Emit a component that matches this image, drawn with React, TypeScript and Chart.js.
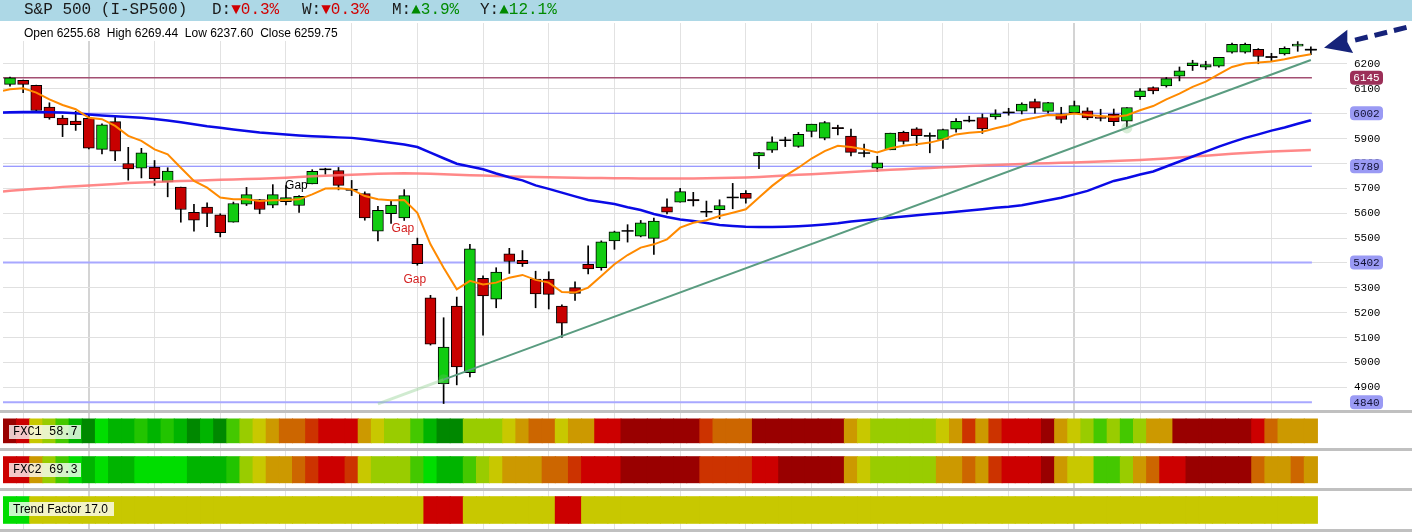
import React, { useEffect, useRef } from "react";
import { Chart, registerables } from "chart.js";

Chart.register(...registerables);

// ---------------- data ----------------
const opens = [6118, 6134, 6114, 6027, 5983, 5971, 5982, 5857, 5968, 5800,
  5781, 5786, 5726, 5705, 5604, 5625, 5594, 5564, 5636, 5655,
  5632, 5647, 5631, 5718, 5776, 5772, 5696, 5679, 5528, 5598,
  5581, 5475, 5260, 4915, 5227, 4959, 5338, 5255, 5437, 5411,
  5335, 5335, 5227, 5301, 5395, 5381, 5489, 5529, 5508, 5499,
  5626, 5645, 5655, 5605, 5614, 5663, 5680, 5830, 5854, 5894,
  5869, 5929, 5902, 5944, 5910, 5842, 5781, 5855, 5925, 5939,
  5910, 5897, 5938, 5974, 5985, 5987, 6005, 6010, 6049, 6009,
  6000, 6004, 6012, 5987, 5999, 5970, 6069, 6105, 6112, 6151,
  6193, 6187, 6191, 6248, 6248, 6259, 6230, 6240, 6272, 6255.68];
const highs = [6147, 6135, 6115, 6044, 5993, 6010, 5994, 5959, 5986, 5865,
  5861, 5812, 5783, 5705, 5636, 5642, 5598, 5645, 5704, 5655,
  5715, 5711, 5671, 5775, 5781, 5784, 5732, 5686, 5628, 5652,
  5695, 5500, 5270, 5180, 5263, 5475, 5348, 5381, 5459, 5450,
  5367, 5365, 5232, 5324, 5469, 5489, 5528, 5554, 5571, 5581,
  5658, 5700, 5684, 5649, 5654, 5720, 5691, 5845, 5907, 5906,
  5925, 5958, 5969, 5954, 5938, 5878, 5829, 5922, 5930, 5944,
  5923, 5938, 5981, 5990, 5999, 6016, 6022, 6044, 6059, 6046,
  6026, 6051, 6024, 6018, 6019, 6025, 6101, 6108, 6146, 6188,
  6215, 6211, 6227, 6284, 6284, 6262, 6243, 6269, 6290, 6269.44];
const lows = [6111, 6085, 6009, 5978, 5908, 5933, 5859, 5838, 5811, 5733,
  5742, 5712, 5666, 5564, 5528, 5546, 5505, 5564, 5631, 5598,
  5622, 5633, 5603, 5718, 5757, 5694, 5671, 5572, 5489, 5559,
  5571, 5391, 5070, 4835, 4910, 4942, 5110, 5220, 5358, 5386,
  5220, 5215, 5101, 5250, 5356, 5371, 5455, 5484, 5505, 5434,
  5597, 5645, 5629, 5586, 5578, 5618, 5640, 5779, 5845, 5868,
  5865, 5907, 5895, 5915, 5830, 5826, 5768, 5855, 5878, 5872,
  5843, 5861, 5926, 5967, 5921, 5978, 5994, 5999, 6002, 6003,
  5963, 6004, 5976, 5971, 5952, 5943, 6058, 6080, 6107, 6132,
  6174, 6178, 6187, 6244, 6244, 6201, 6211, 6236, 6251, 6237.60];
const closes = [6144, 6118, 6013, 5983, 5955, 5956, 5862, 5955, 5850, 5778,
  5843, 5739, 5770, 5615, 5572, 5599, 5522, 5639, 5675, 5615,
  5675, 5663, 5668, 5768, 5777, 5712, 5693, 5581, 5612, 5633,
  5671, 5397, 5074, 5062, 4982, 5457, 5268, 5363, 5406, 5397,
  5276, 5274, 5158, 5278, 5376, 5485, 5525, 5529, 5561, 5569,
  5604, 5687, 5650, 5607, 5631, 5664, 5660, 5844, 5887, 5893,
  5917, 5958, 5964, 5940, 5845, 5842, 5803, 5922, 5889, 5912,
  5912, 5936, 5970, 5971, 5939, 6000, 6006, 6039, 6022, 6045,
  5977, 6033, 5983, 5981, 5968, 6025, 6092, 6092, 6141, 6173,
  6205, 6198, 6227, 6279, 6279, 6230, 6226, 6263, 6280, 6259.75];

// moving-average lines: first value sits at the left edge of the plot, then one per candle
const emaLine = [6092,
  6098, 6102, 6085, 6058, 6035, 6018, 5984, 5978, 5951, 5911,
  5891, 5857, 5837, 5783, 5730, 5703, 5663, 5656, 5656, 5649,
  5652, 5653, 5656, 5676, 5699, 5700, 5696, 5669, 5656, 5652,
  5653, 5602, 5475, 5381, 5294, 5328, 5314, 5321, 5341, 5352,
  5332, 5321, 5283, 5281, 5301, 5348, 5395, 5432, 5462, 5475,
  5495, 5542, 5562, 5572, 5589, 5602, 5616, 5663, 5710, 5750,
  5783, 5820, 5850, 5871, 5866, 5857, 5844, 5861, 5871, 5877,
  5884, 5897, 5917, 5924, 5928, 5942, 5954, 5974, 5984, 5995,
  5994, 6001, 5995, 5991, 5987, 5994, 6014, 6031, 6058, 6081,
  6108, 6129, 6159, 6188, 6202, 6206, 6210, 6219, 6230, 6239];
const ma50Line = [6005,
  6006, 6007, 6007, 6006, 6005, 6002, 5997, 5993, 5990, 5987,
  5984, 5979, 5973, 5966, 5958, 5950, 5944, 5937, 5931, 5925,
  5921, 5917, 5913, 5910, 5908, 5905, 5903, 5897, 5890, 5883,
  5876, 5866, 5844, 5821, 5799, 5788, 5777, 5760, 5745, 5732,
  5712, 5698, 5683, 5668, 5653, 5645, 5637, 5624, 5613, 5597,
  5585, 5575, 5569, 5561, 5553, 5549, 5546, 5545, 5545, 5546,
  5548, 5551, 5555, 5560, 5567, 5572, 5577, 5582, 5587, 5592,
  5597, 5601, 5606, 5611, 5616, 5622, 5626, 5632, 5642, 5652,
  5662, 5676, 5690, 5710, 5730, 5742, 5756, 5768, 5788, 5808,
  5828, 5848, 5868, 5886, 5903, 5917, 5932, 5945, 5960, 5974];
const ma200Line = [5687,
  5690, 5694, 5698, 5701, 5706, 5709, 5712, 5715, 5718, 5722,
  5724, 5726, 5728, 5730, 5731, 5733, 5735, 5736, 5738, 5739,
  5741, 5743, 5746, 5749, 5751, 5753, 5755, 5757, 5759, 5760,
  5761, 5760, 5759, 5757, 5755, 5753, 5752, 5750, 5748, 5747,
  5746, 5745, 5744, 5743, 5742, 5742, 5741, 5741, 5740, 5740,
  5740, 5740, 5740, 5741, 5742, 5743, 5744, 5746, 5749, 5752,
  5755, 5757, 5760, 5763, 5766, 5769, 5772, 5775, 5777, 5780,
  5782, 5785, 5787, 5790, 5792, 5794, 5796, 5798, 5800, 5801,
  5803, 5804, 5806, 5808, 5810, 5812, 5814, 5817, 5820, 5824,
  5828, 5831, 5835, 5839, 5842, 5845, 5848, 5850, 5852, 5854];

const levelValues = [6145, 6002, 5789, 5402, 4840];
const yTickValues = [4900, 5000, 5100, 5200, 5300, 5400, 5500, 5600, 5700, 5800, 5900, 6000, 6100, 6200];
const gridCandles = [1, 6, 11, 16, 21, 26, 31, 36, 41, 46, 51, 56, 61, 66, 71, 76, 81, 86, 91, 96];
const thickGridCandles = [6, 81];

const trendLine = [{ at: 33, value: 4931 }, { at: 99, value: 6216 }];
const trendFade = [{ at: 28, value: 4834 }, { at: 33, value: 4931 }];
const trendTouches = [{ at: 33, value: 4931 }, { at: 85, value: 5943 }];

const gapNotes = [
  { at: 21.8, value: 5712, text: "Gap", kind: "up" },
  { at: 29.9, value: 5539, text: "Gap", kind: "down" },
  { at: 30.8, value: 5332, text: "Gap", kind: "down" },
];
const arrowTarget = { at: 100, value: 6265 };

// heat-strip cell codes, one per candle
const fxc1Cells = ("DRYLMgKBggHgHgKgKMLYGNNORRRGYLLMgKKL" + "LLYGNNYGGRRDDDDDDONNNDDDDDDDGYLLLLLYGOGORRRDGYLMLMLGGDDDDDDRNGGG").split("");
const fxc2Cells = ("RRGLMBgBggBBBBgggHLYGGNORROYLLLMBggM" + "LYGGGNNORRRDDDDDDOOOORRDDDDDGYLLLLLGGNGORRRDGYYMMLGNRRDDDDDNGGNG").split("");
const trendCells = ("BB" + "YYYYYYYYYYYYYYYYYYYYYYYYYYYYYY" + "RRR" + "YYYYYYY" + "RR" +
  "YYYYYYYYYYYYYYYYYYYYYYYYYYYYYYYYYYYYYYYYYYYYYYYYYYYYYYYY").split("");

const headerTitle = "S&P 500 (I-SP500)";
const headerStats = [
  { key: "D:", arrow: "▼", text: "0.3%", up: false },
  { key: "W:", arrow: "▼", text: "0.3%", up: false },
  { key: "M:", arrow: "▲", text: "3.9%", up: true },
  { key: "Y:", arrow: "▲", text: "12.1%", up: true },
];
const stripLabels = ["FXC1 58.7", "FXC2 69.3", "Trend Factor 17.0"];

// ---------------- styles / layout ----------------
const W = 1412;
const X_MIN = -0.533;
const X_MAX = 101.75;
const Y_MIN = 4805;
const Y_MAX = 6364.8;
const PALETTE: Record<string, string> = {
  D: "#990000", R: "#cc0000", O: "#cc3300", N: "#cc6600", G: "#cc9900", Y: "#c8c800",
  L: "#99cc00", M: "#44c800", H: "#22c400", B: "#00dd00", g: "#00b400", K: "#008800",
};
const LEVEL_STYLES = [
  { line: "#a34f72", width: 1.5, badge: "#9c2f58", text: "#ffffff" },
  { line: "#7878ff", width: 1.2, badge: "#9a9af4", text: "#111133" },
  { line: "#7878ff", width: 1.2, badge: "#9a9af4", text: "#111133" },
  { line: "#a8a8ff", width: 2, badge: "#9a9af4", text: "#111133" },
  { line: "#a8a8ff", width: 2, badge: "#9a9af4", text: "#111133" },
];
const MONO = "'Liberation Mono', 'DejaVu Sans Mono', monospace";
const SANS = "'Liberation Sans', Arial, sans-serif";
const STRIP_ROWS = [[8, 31.7], [45.7, 71.7], [85.7, 112.3]];

const idx = opens.map((_, i) => i);
const withLead = (arr: number[]) => arr.map((v, k) => ({ x: k === 0 ? X_MIN : k - 1, y: v }));

function xScaleOptions() {
  return {
    type: "linear",
    min: X_MIN,
    max: X_MAX,
    offset: false,
    ticks: { display: false },
    grid: {
      offset: false,
      drawTicks: false,
      color: (c: any) => (c.tick && thickGridCandles.includes(c.tick.value) ? "#d4d4d4" : "#e2e2e2"),
      lineWidth: (c: any) => (c.tick && thickGridCandles.includes(c.tick.value) ? 2 : 1),
    },
    border: { display: false },
    afterBuildTicks: (s: any) => { s.ticks = gridCandles.map((v) => ({ value: v })); },
    afterFit: (s: any) => { s.height = 0; s.paddingLeft = 0; s.paddingRight = 0; },
  };
}

const badgePlugin = {
  id: "levelBadges",
  afterDraw(chart: any) {
    const ys = chart.scales.y;
    const ctx = chart.ctx;
    ctx.save();
    levelValues.forEach((lv, k) => {
      const st = LEVEL_STYLES[k];
      const y = ys.getPixelForValue(lv);
      const x0 = chart.chartArea.right + 3;
      const w = 33, h = 14;
      ctx.fillStyle = st.badge;
      ctx.beginPath();
      if (ctx.roundRect) ctx.roundRect(x0, y - h / 2, w, h, 4); else ctx.rect(x0, y - h / 2, w, h);
      ctx.fill();
      ctx.fillStyle = st.text;
      ctx.font = "11px " + MONO;
      ctx.textAlign = "center";
      ctx.textBaseline = "middle";
      ctx.fillText(String(lv), x0 + w / 2, y + 0.5);
    });
    ctx.restore();
  },
};

const gapPlugin = {
  id: "gapNotes",
  afterDatasetsDraw(chart: any) {
    const { x: xs, y: ys } = chart.scales;
    const ctx = chart.ctx;
    ctx.save();
    ctx.font = "12px " + SANS;
    ctx.textAlign = "center";
    ctx.textBaseline = "middle";
    gapNotes.forEach((n) => {
      ctx.fillStyle = n.kind === "up" ? "#000000" : "#d42020";
      ctx.fillText(n.text, xs.getPixelForValue(n.at), ys.getPixelForValue(n.value));
    });
    ctx.restore();
  },
};

const arrowPlugin = {
  id: "arrow",
  afterDraw(chart: any) {
    const { x: xs, y: ys } = chart.scales;
    const ctx = chart.ctx;
    const tx = xs.getPixelForValue(arrowTarget.at);
    const ty = ys.getPixelForValue(arrowTarget.value);
    const dx = 0.971, dy = -0.24;
    const headLen = 27, headHalf = 12;
    const bx = tx + dx * headLen, by = ty + dy * headLen;
    ctx.save();
    ctx.fillStyle = "#16237a";
    ctx.beginPath();
    ctx.moveTo(tx, ty);
    ctx.lineTo(bx - dy * headHalf, by + dx * headHalf);
    ctx.lineTo(bx + dx * -3, by + dy * -3);
    ctx.lineTo(bx + dy * headHalf, by - dx * headHalf);
    ctx.closePath();
    ctx.fill();
    ctx.strokeStyle = "#16237a";
    ctx.lineWidth = 5;
    ctx.setLineDash([13, 7]);
    ctx.beginPath();
    ctx.moveTo(bx + dx * 5, by + dy * 5);
    ctx.lineTo(bx + dx * 70, by + dy * 70);
    ctx.stroke();
    ctx.restore();
  },
};

export default function App() {
  const priceRef = useRef<HTMLCanvasElement>(null);
  const stripRef = useRef<HTMLCanvasElement>(null);

  useEffect(() => {
    const dojiIdx = idx.filter((i) => Math.abs(opens[i] - closes[i]) < 6);
    const levelSets = levelValues.map((lv, k) => ({
      type: "line",
      data: [{ x: X_MIN, y: lv }, { x: 99.08, y: lv }],
      borderColor: LEVEL_STYLES[k].line,
      borderWidth: LEVEL_STYLES[k].width,
      pointRadius: 0,
      order: 20,
    }));
    const price = new Chart(priceRef.current as HTMLCanvasElement, {
      type: "bar",
      data: {
        datasets: [
          ...levelSets,
          {
            type: "bar",
            data: idx.map((i) => ({ x: i, y: [lows[i], highs[i]] })),
            backgroundColor: "#000000",
            borderWidth: 0,
            barThickness: 1,
            grouped: false,
            order: 15,
          },
          {
            type: "bar",
            data: idx.map((i) => ({ x: i, y: [opens[i], closes[i]] })),
            backgroundColor: idx.map((i) => (closes[i] >= opens[i] ? "#11cc11" : "#c80000")),
            borderColor: "#000000",
            borderWidth: 1,
            borderSkipped: false,
            barThickness: 11,
            grouped: false,
            order: 14,
          },
          {
            type: "line",
            data: dojiIdx.map((i) => ({ x: i, y: (opens[i] + closes[i]) / 2 })),
            showLine: false,
            pointStyle: "line",
            pointRadius: 6,
            pointBorderWidth: 1.5,
            pointBorderColor: "#000000",
            order: 13,
          },
          {
            type: "line",
            data: withLead(ma200Line),
            borderColor: "rgba(255,115,115,0.85)",
            borderWidth: 2.5,
            pointRadius: 0,
            order: 8,
          },
          {
            type: "line",
            data: withLead(ma50Line),
            borderColor: "#0a0ae6",
            borderWidth: 2.5,
            pointRadius: 0,
            order: 7,
          },
          {
            type: "line",
            data: trendFade.map((p) => ({ x: p.at, y: p.value })),
            borderColor: "rgba(150,210,150,0.45)",
            borderWidth: 3,
            pointRadius: 0,
            order: 6,
          },
          {
            type: "line",
            data: trendLine.map((p) => ({ x: p.at, y: p.value })),
            borderColor: "#5a9c80",
            borderWidth: 2,
            pointRadius: 0,
            order: 5,
          },
          {
            type: "line",
            data: trendTouches.map((p) => ({ x: p.at, y: p.value })),
            showLine: false,
            pointRadius: 5.5,
            pointBorderWidth: 0,
            pointBackgroundColor: "rgba(110,190,110,0.28)",
            order: 4,
          },
          {
            type: "line",
            data: withLead(emaLine),
            borderColor: "#ff8a00",
            borderWidth: 2,
            pointRadius: 0,
            order: 3,
          },
        ] as any,
      },
      options: {
        animation: false,
        responsive: false,
        maintainAspectRatio: false,
        events: [],
        layout: { autoPadding: false, padding: { left: 3, right: 0, top: 23, bottom: 3 } },
        plugins: { legend: { display: false }, tooltip: { enabled: false } },
        scales: {
          x: xScaleOptions() as any,
          y: {
            type: "linear",
            position: "right",
            min: Y_MIN,
            max: Y_MAX,
            ticks: {
              padding: 7,
              color: "#000000",
              font: { family: MONO, size: 11 },
              callback: (v: any) => String(v),
            },
            grid: { drawTicks: false, color: "#e0e0e0", lineWidth: 1 },
            border: { display: false },
            afterBuildTicks: (s: any) => { s.ticks = yTickValues.map((v) => ({ value: v })); },
            afterFit: (s: any) => { s.width = 65; s.paddingTop = 0; s.paddingBottom = 0; },
          } as any,
        },
      },
      plugins: [gapPlugin, badgePlugin, arrowPlugin],
    } as any);

    const rowSet = (cells: string[], row: number[]) => ({
      type: "bar",
      data: idx.map((i) => ({ x: i, y: row })),
      backgroundColor: cells.map((c) => PALETTE[c]),
      borderWidth: 0,
      barPercentage: 1,
      categoryPercentage: 1,
      inflateAmount: 0.5,
      grouped: false,
    });
    const strips = new Chart(stripRef.current as HTMLCanvasElement, {
      type: "bar",
      data: {
        datasets: [
          rowSet(fxc1Cells, STRIP_ROWS[0]),
          rowSet(fxc2Cells, STRIP_ROWS[1]),
          rowSet(trendCells, STRIP_ROWS[2]),
        ] as any,
      },
      options: {
        animation: false,
        responsive: false,
        maintainAspectRatio: false,
        events: [],
        layout: { autoPadding: false, padding: { left: 3, right: 65, top: 0, bottom: 0 } },
        plugins: { legend: { display: false }, tooltip: { enabled: false } },
        scales: {
          x: xScaleOptions() as any,
          y: { type: "linear", display: false, min: 0, max: 121, reverse: true } as any,
        },
      },
    } as any);

    return () => {
      price.destroy();
      strips.destroy();
    };
  }, []);

  const last = opens.length - 1;
  const ohlcText =
    `Open ${opens[last].toFixed(2)}  High ${highs[last].toFixed(2)}  Low ${lows[last].toFixed(2)}  Close ${closes[last].toFixed(2)}`;
  const statX = [212, 302, 392, 480];
  const sep = (top: number) => (
    <div style={{ position: "absolute", left: 0, top, width: W, height: 3, background: "#c0c0c0" }} />
  );
  const labelBox = (text: string, top: number, width: number, font: string) => (
    <div
      style={{
        position: "absolute", left: 9, top, width, height: 14, lineHeight: "14px",
        background: "rgba(255,255,255,0.78)", font, color: "#000", paddingLeft: 4,
        boxSizing: "border-box", whiteSpace: "pre",
      }}
    >
      {text}
    </div>
  );

  return (
    <div style={{ position: "relative", width: W, height: 532, overflow: "hidden", background: "#fff" }}>
      <style>{"body{margin:0;}"}</style>
      <canvas ref={priceRef} width={W} height={414} style={{ position: "absolute", left: 0, top: 0 }} />
      <canvas ref={stripRef} width={W} height={121} style={{ position: "absolute", left: 0, top: 411 }} />
      <div
        style={{
          position: "absolute", left: 0, top: 0, width: W, height: 21, background: "#add8e6",
          font: "16px " + MONO, lineHeight: "21px", whiteSpace: "pre",
        }}
      >
        <span style={{ position: "absolute", left: 24, color: "#1a1a1a" }}>{headerTitle}</span>
        {headerStats.map((s, k) => (
          <span key={k} style={{ position: "absolute", left: statX[k], color: "#1a1a1a" }}>
            {s.key}
            <span style={{ color: s.up ? "#008a00" : "#d00000" }}>{s.arrow}{s.text}</span>
          </span>
        ))}
      </div>
      <div
        style={{
          position: "absolute", left: 18, top: 23, width: 328, height: 18, background: "#fff",
          font: "12px " + SANS, lineHeight: "16px", paddingTop: 2, paddingLeft: 6,
          boxSizing: "border-box", whiteSpace: "pre", color: "#000",
        }}
      >
        {ohlcText}
      </div>
      {sep(410)}
      {sep(448)}
      {sep(488)}
      {sep(529)}
      {labelBox(stripLabels[0], 425, 72, "12px " + MONO)}
      {labelBox(stripLabels[1], 463, 72, "12px " + MONO)}
      {labelBox(stripLabels[2], 502, 105, "12px " + SANS)}
    </div>
  );
}
